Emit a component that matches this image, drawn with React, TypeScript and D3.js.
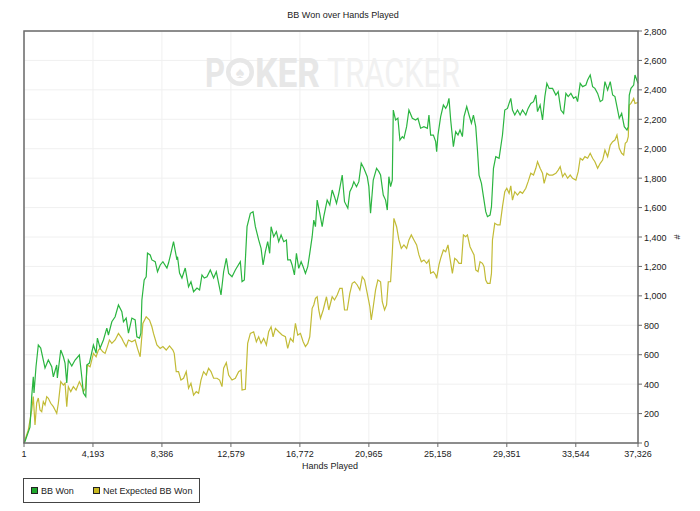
import React from 'react';
import * as d3 from 'd3';

// values: [hands played, bb]
const bbWon: [number, number][] = [
  [1, 0], [61, 10], [365, 108], [469, 315], [566, 450], [609, 340], [731, 518], [871, 666],
  [1017, 645], [1175, 564], [1279, 510], [1480, 564], [1687, 518], [1784, 450], [1991, 530],
  [2028, 442], [2235, 632], [2393, 586], [2496, 543], [2600, 408], [2697, 564], [2904, 523],
  [3105, 564], [3367, 598], [3513, 450], [3611, 340], [3757, 315], [3818, 530], [3976, 543],
  [4220, 666], [4384, 611], [4463, 713], [4628, 645], [4829, 700], [5036, 781], [5133, 734],
  [5340, 824], [5541, 858], [5742, 938], [5949, 892], [6046, 824], [6211, 849], [6351, 747],
  [6558, 849], [6759, 836], [6862, 722], [7021, 713], [7106, 747], [7167, 972], [7307, 1108],
  [7429, 1130], [7508, 1291], [7672, 1278], [7776, 1244], [7977, 1232], [8117, 1164],
  [8281, 1210], [8445, 1232], [8689, 1189], [8786, 1223], [8933, 1290], [9091, 1368],
  [9298, 1244], [9334, 1266], [9456, 1155], [9602, 1121], [9803, 1189], [10004, 1062],
  [10150, 1096], [10309, 1028], [10516, 1053], [10674, 1040], [10820, 1142], [10960, 1121],
  [11125, 1130], [11326, 1176], [11527, 1121], [11691, 1164], [11831, 1087], [11977, 1006],
  [12136, 1164], [12300, 1255], [12441, 1153], [12647, 1130], [12848, 1176], [13152, 1232],
  [13256, 1096], [13396, 1108], [13560, 1470], [13761, 1561], [13925, 1572], [14066, 1470],
  [14267, 1380], [14413, 1323], [14535, 1210], [14674, 1300], [14815, 1368], [14936, 1289],
  [15022, 1470], [15180, 1402], [15344, 1436], [15484, 1368], [15630, 1414], [15789, 1368],
  [15953, 1380], [16032, 1244], [16197, 1244], [16300, 1210], [16440, 1142], [16562, 1289],
  [16702, 1187], [16848, 1232], [16970, 1198], [17110, 1153], [17250, 1198], [17372, 1289],
  [17518, 1402], [17616, 1515], [17719, 1470], [17823, 1651], [17981, 1561], [18127, 1470],
  [18224, 1538], [18431, 1651], [18590, 1617], [18736, 1719], [18876, 1674], [18998, 1629],
  [19138, 1697], [19345, 1821], [19485, 1640], [19686, 1595], [19808, 1708], [19954, 1742],
  [20051, 1776], [20215, 1742], [20356, 1776], [20502, 1901], [20660, 1867], [20867, 1810],
  [20965, 1742], [21068, 1561], [21232, 1787], [21433, 1867], [21573, 1844], [21677, 1821],
  [21841, 1685], [21981, 1651], [22085, 1583], [22182, 1810], [22286, 1742], [22389, 1787],
  [22450, 2263], [22590, 2195], [22730, 2207], [22852, 2059], [22998, 2082], [23096, 2071],
  [23260, 2150], [23400, 2263], [23607, 2207], [23808, 2195], [23948, 2207], [24112, 2139],
  [24313, 2150], [24520, 2139], [24618, 2229], [24721, 2093], [24886, 2093], [25026, 2048],
  [25087, 1980], [25166, 2093], [25330, 2218], [25495, 2297], [25635, 2274], [25738, 2297],
  [25836, 2342], [25939, 2195], [26104, 2014], [26244, 2116], [26384, 2093], [26506, 2127],
  [26652, 2082], [26750, 2218], [26914, 2286], [27054, 2229], [27200, 2173], [27322, 2229],
  [27462, 2150], [27566, 1991], [27663, 1821], [27809, 1765], [27931, 1674], [28070, 1572],
  [28174, 1538], [28333, 1549], [28418, 1606], [28540, 1867], [28680, 1946], [28881, 1935],
  [29088, 2093], [29227, 2263], [29392, 2274], [29489, 2308], [29593, 2342], [29696, 2263],
  [29836, 2229], [30001, 2263], [30159, 2229], [30305, 2263], [30506, 2229], [30646, 2274],
  [30810, 2308], [30975, 2320], [31115, 2365], [31218, 2252], [31377, 2297], [31523, 2195],
  [31663, 2354], [31786, 2444], [31925, 2410], [32132, 2410], [32333, 2365], [32474, 2388],
  [32638, 2263], [32803, 2240], [32943, 2376], [33083, 2354], [33246, 2376], [33410, 2342],
  [33550, 2354], [33654, 2320], [33812, 2444], [33958, 2422], [34159, 2433], [34263, 2467],
  [34421, 2501], [34567, 2422], [34707, 2410], [34872, 2376], [35030, 2320], [35176, 2331],
  [35316, 2456], [35480, 2399], [35639, 2456], [35785, 2365], [35925, 2354], [36047, 2286],
  [36187, 2207], [36333, 2240], [36492, 2150], [36656, 2127], [36735, 2150], [36796, 2365],
  [36899, 2410], [37064, 2433], [37143, 2501], [37326, 2444],
];

const netExpected: [number, number][] = [
  [1, 0], [61, 20], [262, 88], [469, 224], [566, 315], [670, 122], [773, 272], [871, 306],
  [974, 224], [1078, 213], [1175, 281], [1279, 258], [1382, 315], [1480, 304], [1626, 270],
  [1784, 247], [1888, 224], [1991, 202], [2089, 270], [2235, 417], [2393, 394], [2496, 406],
  [2600, 247], [2697, 383], [2844, 349], [3002, 383], [3166, 360], [3367, 417], [3513, 383],
  [3611, 349], [3733, 372], [3854, 530], [4019, 518], [4220, 609], [4384, 586], [4524, 632],
  [4628, 643], [4792, 620], [4932, 609], [5072, 655], [5194, 700], [5340, 677], [5541, 700],
  [5742, 745], [5949, 711], [6046, 688], [6211, 655], [6351, 700], [6558, 688], [6759, 700],
  [6899, 643], [7063, 586], [7228, 813], [7429, 858], [7630, 836], [7776, 790], [7873, 745],
  [8080, 666], [8281, 643], [8445, 655], [8646, 632], [8847, 660], [9052, 632], [9133, 609],
  [9255, 485], [9395, 485], [9541, 428], [9700, 440], [9864, 485], [10004, 372], [10150, 406],
  [10309, 326], [10473, 349], [10613, 338], [10759, 428], [10918, 485], [11082, 462],
  [11222, 508], [11368, 485], [11527, 440], [11734, 440], [11892, 428], [12038, 383],
  [12136, 508], [12300, 546], [12441, 462], [12647, 428], [12848, 440], [13049, 485],
  [13195, 496], [13256, 360], [13457, 365], [13597, 677], [13761, 745], [13962, 756],
  [14126, 688], [14267, 722], [14413, 677], [14571, 711], [14735, 666], [14875, 756],
  [15022, 790], [15143, 722], [15283, 779], [15484, 756], [15691, 734], [15892, 722],
  [16032, 643], [16197, 711], [16361, 688], [16501, 813], [16641, 734], [16806, 745],
  [16970, 688], [17110, 655], [17250, 677], [17372, 722], [17518, 915], [17616, 938],
  [17719, 983], [17823, 994], [17920, 904], [18023, 847], [18188, 904], [18389, 994],
  [18529, 904], [18736, 994], [18876, 972], [19040, 1006], [19199, 1051], [19345, 1051],
  [19485, 904], [19650, 904], [19808, 1017], [19954, 1085], [20094, 1096], [20258, 1074],
  [20417, 1040], [20563, 1130], [20703, 1108], [20867, 1017], [21026, 926], [21111, 836],
  [21232, 926], [21373, 1040], [21513, 1108], [21677, 1096], [21780, 960], [21920, 904],
  [22042, 938], [22146, 1096], [22286, 1096], [22389, 1289], [22487, 1527], [22651, 1470],
  [22791, 1380], [22937, 1323], [23096, 1346], [23260, 1323], [23400, 1380], [23546, 1414],
  [23705, 1380], [23869, 1346], [24009, 1278], [24155, 1232], [24313, 1244], [24478, 1221],
  [24618, 1244], [24721, 1153], [24886, 1164], [25026, 1142], [25087, 1119], [25227, 1210],
  [25330, 1255], [25495, 1312], [25635, 1300], [25775, 1346], [25897, 1255], [26043, 1153],
  [26183, 1255], [26305, 1244], [26445, 1221], [26591, 1221], [26713, 1414], [26853, 1402],
  [26957, 1414], [27115, 1334], [27262, 1300], [27359, 1278], [27462, 1176], [27603, 1164],
  [27724, 1232], [27870, 1221], [27968, 1198], [28070, 1108], [28174, 1085], [28333, 1085],
  [28418, 1153], [28479, 1380], [28618, 1493], [28783, 1482], [28941, 1482], [29088, 1606],
  [29227, 1708], [29349, 1731], [29489, 1697], [29593, 1747], [29696, 1651], [29836, 1708],
  [30001, 1685], [30159, 1708], [30305, 1697], [30506, 1731], [30646, 1776], [30810, 1833],
  [30975, 1821], [31115, 1867], [31218, 1912], [31377, 1867], [31523, 1833], [31620, 1765],
  [31786, 1833], [31925, 1821], [32132, 1821], [32333, 1833], [32474, 1855], [32595, 1878],
  [32741, 1810], [32881, 1833], [33046, 1799], [33204, 1821], [33350, 1799], [33550, 1787],
  [33691, 1844], [33812, 1935], [33958, 1923], [34098, 1946], [34263, 1935], [34421, 1969],
  [34567, 1935], [34707, 1912], [34872, 1867], [35030, 1901], [35176, 1923], [35316, 1991],
  [35480, 1946], [35639, 2025], [35785, 2048], [35925, 2059], [36047, 2093], [36187, 2003],
  [36333, 1969], [36455, 1957], [36552, 2037], [36656, 2048], [36735, 2082], [36796, 2297],
  [36899, 2308], [37064, 2342], [37143, 2308], [37326, 2314],
];

const xTicks = [1, 4193, 8386, 12579, 16772, 20965, 25158, 29351, 33544, 37326];
const yTicks = [0, 200, 400, 600, 800, 1000, 1200, 1400, 1600, 1800, 2000, 2200, 2400, 2600, 2800];
const seriesNames = ['BB Won', 'Net Expected BB Won'];
const seriesColors = ['#2bb540', '#c2bb36'];
const swatchColors = ['#1fa82c', '#c8b820'];

const W = 700, H = 511;
const left = 24, right = 638, top = 31, bottom = 443;
const font = '"Liberation Sans", Arial, sans-serif';

const App: React.FC = () => {
  const x = d3.scaleLinear().domain([1, 37326]).range([left, right]);
  const y = d3.scaleLinear().domain([0, 2800]).range([bottom, top]);
  const line = d3.line<[number, number]>().x(d => x(d[0])).y(d => y(d[1]));
  const fmt = d3.format(',');

  return (
    <svg width={W} height={H} style={{ position: 'absolute', left: 0, top: 0, background: '#fff' }}
      fontFamily={font}>
      <rect width={W} height={H} fill="#fff" />

      {/* grid */}
      {yTicks.map(t => (
        <line key={'gy' + t} x1={left} x2={right} y1={y(t)} y2={y(t)} stroke="#f0f0f0" />
      ))}
      {xTicks.map(t => (
        <line key={'gx' + t} x1={x(t)} x2={x(t)} y1={top} y2={bottom} stroke="#f0f0f0" />
      ))}

      {/* watermark */}
      <g>
        <text x={205} y={87} fontSize={40} fontWeight="bold" fill="#e7e7e7" textLength={20}
          lengthAdjust="spacingAndGlyphs" fontFamily="Roboto, sans-serif">P</text>
        <circle cx={240} cy={72} r={14} fill="#e7e7e7" />
        <circle cx={240} cy={72} r={9.5} fill="#fff" />
        <text x={240} y={78} fontSize={16} textAnchor="middle" fill="#e7e7e7">♠</text>
        <text x={255} y={87} fontSize={40} fontWeight="bold" fill="#e7e7e7" textLength={65}
          lengthAdjust="spacingAndGlyphs" fontFamily="Roboto, sans-serif">KER</text>
        <text x={327} y={87} fontSize={40} fill="#f1f1f1" textLength={133}
          lengthAdjust="spacingAndGlyphs" fontFamily="Roboto, sans-serif">TRACKER</text>
      </g>

      {/* series */}
      <path d={line(netExpected) ?? ''} fill="none" stroke={seriesColors[1]} strokeWidth={1.2} />
      <path d={line(bbWon) ?? ''} fill="none" stroke={seriesColors[0]} strokeWidth={1.2} />

      {/* frame */}
      <rect x={left} y={top} width={right - left} height={bottom - top} fill="none" stroke="#6a6a6a" strokeWidth={1.5} />

      {/* x axis */}
      {xTicks.map(t => (
        <g key={'xt' + t}>
          <line x1={x(t)} x2={x(t)} y1={bottom} y2={bottom + 4} stroke="#6a6a6a" />
          <text x={x(t)} y={bottom + 14} fontSize={9} textAnchor="middle" fill="#222">{fmt(t)}</text>
        </g>
      ))}
      <text x={330} y={469} fontSize={9} textAnchor="middle" fill="#222">Hands Played</text>

      {/* y axis on the right */}
      {yTicks.map(t => (
        <g key={'yt' + t}>
          <line x1={right} x2={right + 4} y1={y(t)} y2={y(t)} stroke="#6a6a6a" />
          <text x={right + 6} y={y(t) + 3.5} fontSize={9} fill="#222">{fmt(t)}</text>
        </g>
      ))}
      <text transform="translate(674,237) rotate(90)" fontSize={9} textAnchor="middle" fill="#222">#</text>

      {/* title */}
      <text x={343} y={18} fontSize={9} textAnchor="middle" fill="#222">BB Won over Hands Played</text>

      {/* legend */}
      <rect x={23.5} y={478.5} width={176} height={24} fill="#fff" stroke="#444" />
      {seriesNames.map((name, i) => {
        const lx = i === 0 ? 31 : 93;
        return (
          <g key={name}>
            <rect x={lx + 0.5} y={487.5} width={6} height={6} fill={swatchColors[i]} stroke="#222" />
            <text x={lx + 10} y={494} fontSize={9} fill="#222">{name}</text>
          </g>
        );
      })}
    </svg>
  );
};

export default App;
